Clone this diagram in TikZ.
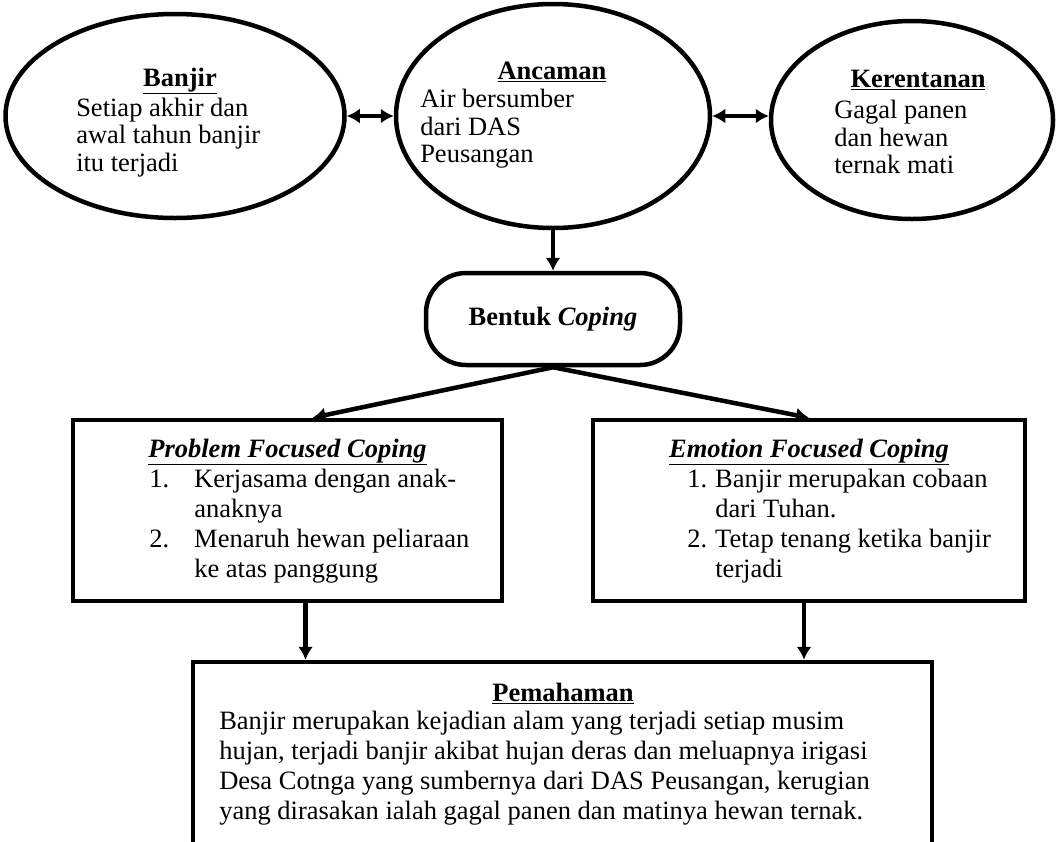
\documentclass[tikz,border=0pt]{standalone}
\usepackage{fontspec}
\setmainfont{Liberation Serif}
\usepackage{tikz}
\usetikzlibrary{positioning,shapes.geometric,arrows.meta}

\begin{document}
\begin{tikzpicture}[x=1pt,y=-1pt,line width=4.5pt,
    every node/.style={font=\fontsize{26.5pt}{30pt}\selectfont},
    >={Latex[length=13pt,width=15pt]},
    oval/.style={draw,ellipse,inner sep=0pt},
    headtext/.style={font=\fontsize{26.5pt}{30pt}\selectfont\bfseries},
    ovaltext/.style={anchor=west,align=left,inner sep=0pt,font=\fontsize{26.5pt}{27.5pt}\selectfont},
    listtext/.style={anchor=west,inner sep=0pt}]
    \useasboundingbox (0,0) rectangle (1056,841);
    \clip (0,0) rectangle (1056,841);
    % top row
    \node[oval,minimum width=339pt,minimum height=204pt] (banjir) at (175,116) {};
    \node[oval,minimum width=314pt,minimum height=224pt] (ancaman) at (553,116) {};
    \node[oval,minimum width=282pt,minimum height=198pt] (rentan) at (912,120) {};
    \node[headtext] (banjirT) at (180,81) {\underline{Banjir}};
    \node[ovaltext] (banjirB) at (74,137.5) {Setiap akhir dan\\awal tahun banjir\\itu terjadi};
    \node[headtext] (ancamanT) at (552,72) {\underline{Ancaman}};
    \node[ovaltext] (ancamanB) at (418,129) {Air bersumber\\dari DAS\\Peusangan};
    \node[headtext] (rentanT) at (918,80) {\underline{Kerentanan}};
    \node[ovaltext] (rentanB) at (832,137) {Gagal panen\\dan hewan\\ternak mati};
    \draw[<->] (banjir) -- (ancaman);
    \draw[<->] (ancaman.east) -- (ancaman.east -| rentan.west);
    % coping
    \node[draw,rounded corners=40pt,minimum width=254pt,minimum height=92pt,
      headtext] (coping) at (553,319) {Bentuk \textit{Coping}};
    \draw[->] (ancaman) -- (coping);
    % two kinds of coping
    \node[draw,minimum width=429pt,minimum height=181pt] (problem) at (287.5,510.5) {};
    \node[draw,minimum width=432pt,minimum height=181pt] (emotion) at (809,510.5) {};
    \draw[->] (coping.south) -- ([xshift=25pt]problem.north);
    \draw[->] (coping.south) -- (emotion.north);
    \node[headtext] (problemT) at (287.5,452) {\textit{\underline{Problem Focused Coping}}};
    \node[listtext] (problemL) at (147,526.5) {\begin{tabular}{@{}p{45pt}@{}l@{}}
      1. & Kerjasama dengan anak-\\
         & anaknya\\
      2. & Menaruh hewan peliaraan\\
         & ke atas panggung
    \end{tabular}};
    \node[headtext] (emotionT) at (809,452) {\textit{\underline{Emotion Focused Coping}}};
    \node[listtext] (emotionL) at (685,526.5) {\begin{tabular}{@{}p{28pt}@{}l@{}}
      1. & Banjir merupakan cobaan\\
         & dari Tuhan.\\
      2. & Tetap tenang ketika banjir\\
         & terjadi
    \end{tabular}};
    % pemahaman
    \node[draw,minimum width=739pt,minimum height=230pt] (paham) at (562.5,777) {};
    \coordinate (pl) at ([xshift=18pt]problem.south);
    \coordinate (el) at ([xshift=-5pt]emotion.south);
    \draw[->] (pl) -- (pl |- paham.north);
    \draw[->] (el) -- (el |- paham.north);
    \node[headtext] (pahamT) at (563,693) {\underline{Pemahaman}};
    \node[anchor=west,align=left,inner sep=0pt] (pahamB) at (217,768) {Banjir merupakan kejadian alam yang terjadi setiap musim\\
      hujan, terjadi banjir akibat hujan deras dan meluapnya irigasi\\
      Desa Cotnga yang sumbernya dari DAS Peusangan, kerugian\\
      yang dirasakan ialah gagal panen dan matinya hewan ternak.};
\end{tikzpicture}
\end{document}
